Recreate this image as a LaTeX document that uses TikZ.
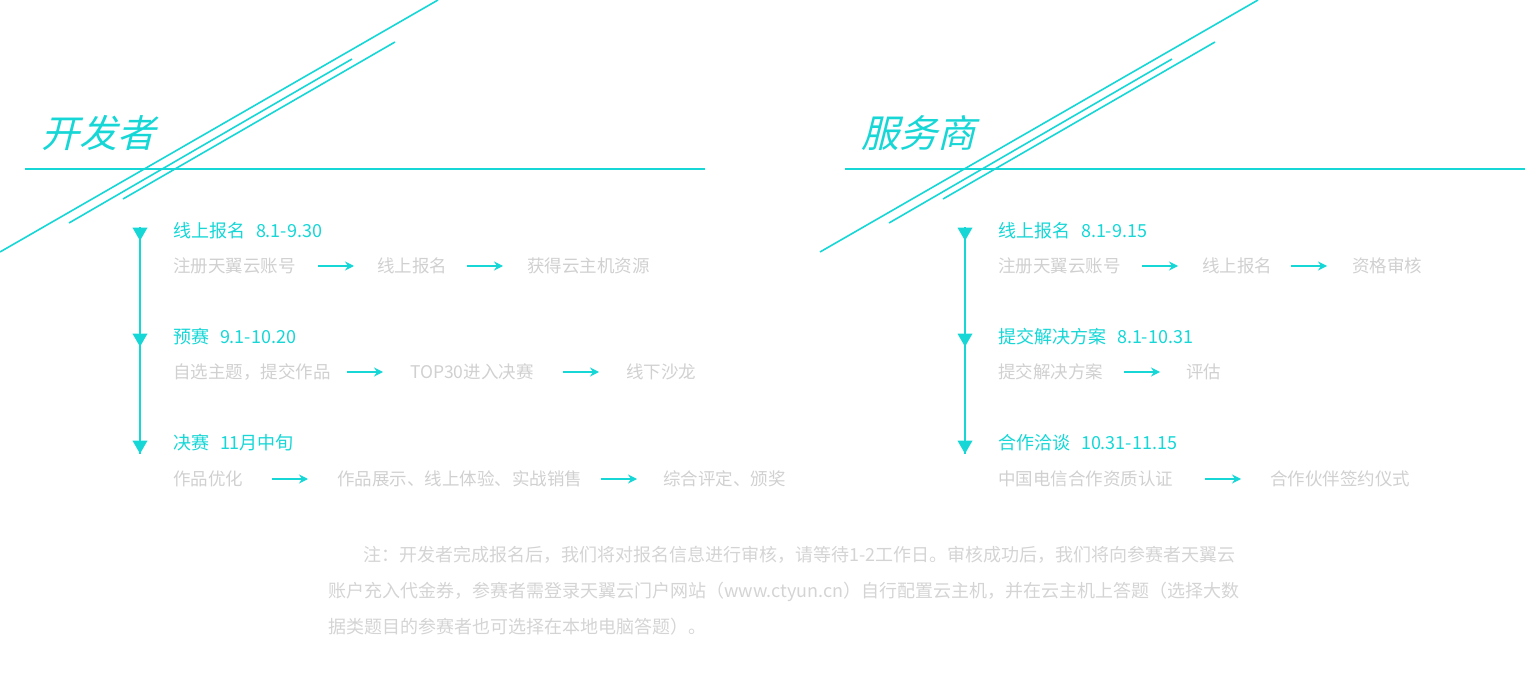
\documentclass[tikz,border=0pt]{standalone}
\usepackage{fontspec}
\setmainfont{Noto Sans CJK SC}
\newfontfamily\titlefont[FakeSlant=0.25]{Noto Sans CJK SC}
\usetikzlibrary{arrows.meta,shapes.geometric}
\usepackage{xcolor}
\definecolor{stagecyan} {RGB}{ 22,214,214}
\definecolor{stepgray}  {RGB}{208,208,208}
\definecolor{notegray}  {RGB}{212,212,212}

\begin{document}
\begin{tikzpicture}[
    x=1pt, y=-1pt,
    deco/.style={draw=stagecyan, line width=1.6pt},
    track/.style={draw=stagecyan, line width=1.8pt},
    title/.style={anchor=west, inner sep=0pt, text=stagecyan, font=\titlefont\fontsize{38}{40}\selectfont},
    stage/.style={anchor=west, inner sep=0pt, text=stagecyan, font=\fontsize{18}{20}\selectfont},
    item/.style={anchor=west, inner sep=0pt, text=stepgray, font=\fontsize{17.5}{20}\selectfont},
    stagemark/.style={isosceles triangle, isosceles triangle apex angle=60, shape border rotate=-90, fill=stagecyan, inner sep=0pt, minimum width=15pt, minimum height=13pt},
    arrow/.style={-{Stealth[length=9pt,width=9pt]}, draw=stagecyan, line width=1.8pt}
]
    \useasboundingbox (0,0) rectangle (1525,700);

    % developer side
    \draw[deco] (0,252) -- (438,0);
    \draw[deco] (69,223) -- (352,59);
    \draw[deco] (123,199) -- (395,42);
    \draw[deco] (25,169) -- (705,169);
    \node[title] (devtitle) at (41,133) {开发者};

    \node[stagemark] (d1) at (140,232) {};
    \node[stagemark] (d2) at (140,338) {};
    \node[stagemark] (d3) at (140,445) {};
    \draw[track] (d1.north) -- (d3.apex);

    \node[stage] (ds1) at (173,231) {线上报名\hspace{0.6em}8.1-9.30};
    \node[item] (da1) at (173,266) {注册天翼云账号};
    \node[item] (da2) at (377,266) {线上报名};
    \node[item] (da3) at (527,266) {获得云主机资源};
    \draw[arrow] ([xshift=-59pt]da2.west) -- ([xshift=-23pt]da2.west);
    \draw[arrow] ([xshift=-60pt]da3.west) -- ([xshift=-24pt]da3.west);

    \node[stage] (ds2) at (173,337) {预赛\hspace{0.6em}9.1-10.20};
    \node[item] (db1) at (173,372) {自选主题，提交作品};
    \node[item] (db2) at (410,372) {TOP30进入决赛};
    \node[item] (db3) at (626,372) {线下沙龙};
    \draw[arrow] ([xshift=-63pt]db2.west) -- ([xshift=-27pt]db2.west);
    \draw[arrow] ([xshift=-63pt]db3.west) -- ([xshift=-27pt]db3.west);

    \node[stage] (ds3) at (173,443) {决赛\hspace{0.6em}11月中旬};
    \node[item] (dc1) at (173,479) {作品优化};
    \node[item] (dc2) at (337,479) {作品展示、线上体验、实战销售};
    \node[item] (dc3) at (663,479) {综合评定、颁奖};
    \draw[arrow] ([xshift=-65pt]dc2.west) -- ([xshift=-29pt]dc2.west);
    \draw[arrow] ([xshift=-62pt]dc3.west) -- ([xshift=-26pt]dc3.west);

    % provider side
    \draw[deco] (820,252) -- (1258,0);
    \draw[deco] (889,223) -- (1172,59);
    \draw[deco] (943,199) -- (1215,42);
    \draw[deco] (845,169) -- (1525,169);
    \node[title] (protitle) at (861,133) {服务商};

    \node[stagemark] (p1) at (965,232) {};
    \node[stagemark] (p2) at (965,338) {};
    \node[stagemark] (p3) at (965,445) {};
    \draw[track] (p1.north) -- (p3.apex);

    \node[stage] (ps1) at (998,231) {线上报名\hspace{0.6em}8.1-9.15};
    \node[item] (pa1) at (998,266) {注册天翼云账号};
    \node[item] (pa2) at (1202,266) {线上报名};
    \node[item] (pa3) at (1352,266) {资格审核};
    \draw[arrow] ([xshift=-60pt]pa2.west) -- ([xshift=-24pt]pa2.west);
    \draw[arrow] ([xshift=-61pt]pa3.west) -- ([xshift=-25pt]pa3.west);

    \node[stage] (ps2) at (998,337) {提交解决方案\hspace{0.6em}8.1-10.31};
    \node[item] (pb1) at (998,372) {提交解决方案};
    \node[item] (pb2) at (1186,372) {评估};
    \draw[arrow] ([xshift=-62pt]pb2.west) -- ([xshift=-26pt]pb2.west);

    \node[stage] (ps3) at (998,443) {合作洽谈\hspace{0.6em}10.31-11.15};
    \node[item] (pc1) at (998,479) {中国电信合作资质认证};
    \node[item] (pc2) at (1270,479) {合作伙伴签约仪式};
    \draw[arrow] ([xshift=-65pt]pc2.west) -- ([xshift=-29pt]pc2.west);

    % note
    \node[anchor=north west, inner sep=0pt, align=left, text=notegray, font=\fontsize{18}{36}\selectfont] (note) at (328,546)
        {\hspace*{35pt}注：开发者完成报名后，我们将对报名信息进行审核，请等待1-2工作日。审核成功后，我们将向参赛者天翼云\\
         账户充入代金券，参赛者需登录天翼云门户网站（www.ctyun.cn）自行配置云主机，并在云主机上答题（选择大数\\
         据类题目的参赛者也可选择在本地电脑答题）。};
\end{tikzpicture}
\end{document}
